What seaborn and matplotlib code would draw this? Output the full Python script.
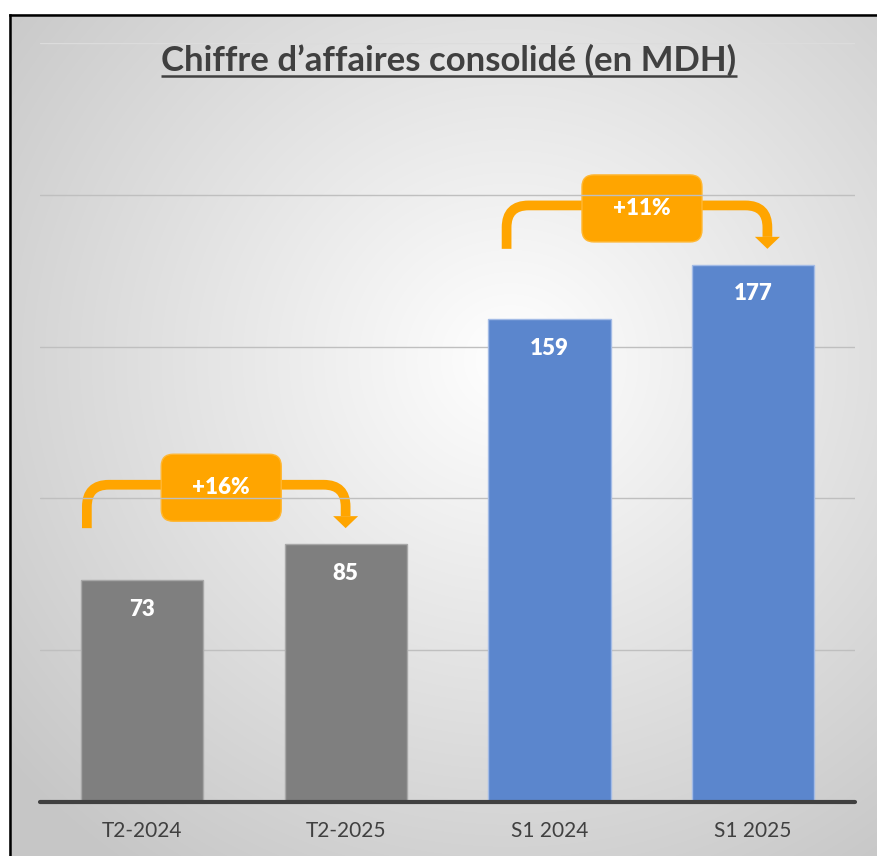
import numpy as np
import matplotlib
matplotlib.use("Agg")
import matplotlib.pyplot as plt
import seaborn as sns
import pandas as pd
from matplotlib.path import Path
from matplotlib.patches import PathPatch, FancyBboxPatch, Polygon

# ---------------- data ----------------
categories = ["T2-2024", "T2-2025", "S1 2024", "S1 2025"]
values = [73, 85, 159, 177]
bar_colors = ["#7f7f7f", "#7f7f7f", "#5b86cd", "#5b86cd"]
edge_colors = ["#a8a8a8", "#a8a8a8", "#a3bbe6", "#a3bbe6"]
growth_pairs = [(0, 1), (2, 3)]
growth_labels = ["+16%", "+11%"]
title = "Chiffre d’affaires consolidé (en MDH)"

# layout of the growth brackets (offsets relative to bars)
left_offsets = [-0.27, -0.21]
right_offsets = [0.0, 0.07]
ORANGE = "#ffa500"
TXT = "#404040"

sns.set_theme(style="white")
plt.rcParams['font.family'] = ['Lato', 'DejaVu Sans']

W, H, DPI = 877, 856, 100
fig = plt.figure(figsize=(W / DPI, H / DPI), dpi=DPI)
fig.patch.set_facecolor("white")

# ---------------- background (radial gradient + frame) ----------------
bg = fig.add_axes([0, 0, 1, 1], zorder=0)
yy, xx = np.mgrid[0:H, 0:W]
d = np.hypot((xx - 510) * 0.95, yy - 360)
v = 1 - 0.22 * np.clip(d / 620, 0, 1) ** 1.0
img = np.dstack([v, v, v])
img[(xx < 9) | (yy < 14)] = 1.0
bg.imshow(img, extent=[0, W, H, 0], aspect='auto', interpolation='bilinear')
bg.set_xlim(0, W)
bg.set_ylim(H, 0)
bg.axis('off')
bg.plot([9.5, 9.5], [H + 5, 14.5], color='black', lw=1.8, solid_capstyle='projecting')
bg.plot([9.5, W + 5], [14.5, 14.5], color='black', lw=1.8, solid_capstyle='projecting')

# ---------------- main axes ----------------
ax = fig.add_axes([40 / W, 54 / H, 815 / W, 759 / H], zorder=1)
ax.patch.set_alpha(0)
df = pd.DataFrame({"cat": categories, "val": values})
sns.barplot(data=df, x="cat", y="val", hue="cat", palette=bar_colors,
            width=0.6, legend=False, ax=ax, saturation=1, zorder=2)
for p, ec in zip(ax.patches, edge_colors):
    p.set_edgecolor(ec)
    p.set_linewidth(1)

ax.set_xlim(-0.5, 3.5)
ax.set_ylim(0, 250)
for g in [50, 100, 150, 200]:
    ax.axhline(g, color="#bfbfbf", lw=1, zorder=0.5)
ax.axhline(250, color="#dcdcdc", lw=1, zorder=0.5)
ax.axhline(0, color=TXT, lw=3, zorder=3, clip_on=False)
ax.set_yticks([])
ax.set_xlabel("")
ax.set_ylabel("")
ax.tick_params(axis='x', length=0, pad=14, labelsize=15, labelcolor=TXT)
for s in ax.spines.values():
    s.set_visible(False)

for i, val in enumerate(values):
    ax.annotate(str(val), (i, val), xytext=(0, -21), textcoords='offset points',
                ha='center', va='center', color='white', fontsize=16,
                fontweight='heavy', zorder=4)

# ---------------- title ----------------
t = fig.text(449 / W, 1 - 60 / H, title, ha='center', va='center',
             fontsize=25, fontweight='bold', color=TXT)
fig.canvas.draw()
bb = t.get_window_extent()
bg.plot([bb.x0, bb.x1], [75.5, 75.5], color=TXT, lw=1.8, solid_capstyle='butt')


def to_px(x, y):
    dx, dy = ax.transData.transform((x, y))
    return dx, H - dy


# ---------------- growth brackets ----------------
r = 22
for (a, b), lab, lo, ro in zip(growth_pairs, growth_labels, left_offsets, right_offsets):
    hy_val = values[b] + 19.5
    low_val = hy_val - 14.3
    lx, hy = to_px(a + lo, hy_val)
    rx, _ = to_px(b + ro, hy_val)
    _, low = to_px(0, low_val)
    tip = low
    base = tip - 12
    verts = [(lx, low), (lx, hy + r), (lx, hy), (lx + r, hy),
             (rx - r, hy), (rx, hy), (rx, hy + r), (rx, base)]
    codes = [Path.MOVETO, Path.LINETO, Path.CURVE3, Path.CURVE3,
             Path.LINETO, Path.CURVE3, Path.CURVE3, Path.LINETO]
    bg.add_patch(PathPatch(Path(verts, codes), fill=False, edgecolor=ORANGE,
                           lw=7, capstyle='butt', joinstyle='round', zorder=5))
    bg.add_patch(Polygon([(rx - 12.5, base), (rx + 12.5, base), (rx, tip)],
                         closed=True, facecolor=ORANGE, edgecolor='none', zorder=5))
    cx = (lx + rx) / 2 + 5
    cy = hy + 3
    bw, bh = 120, 67
    bg.add_patch(FancyBboxPatch((cx - bw / 2, cy - bh / 2), bw, bh,
                                boxstyle="round,pad=0,rounding_size=12",
                                facecolor=ORANGE, edgecolor="#ffb733", lw=1, zorder=6))
    bg.text(cx, cy, lab, ha='center', va='center', color='white',
            fontsize=16, fontweight='heavy', zorder=7)

fig.savefig("out.png", dpi=DPI)
